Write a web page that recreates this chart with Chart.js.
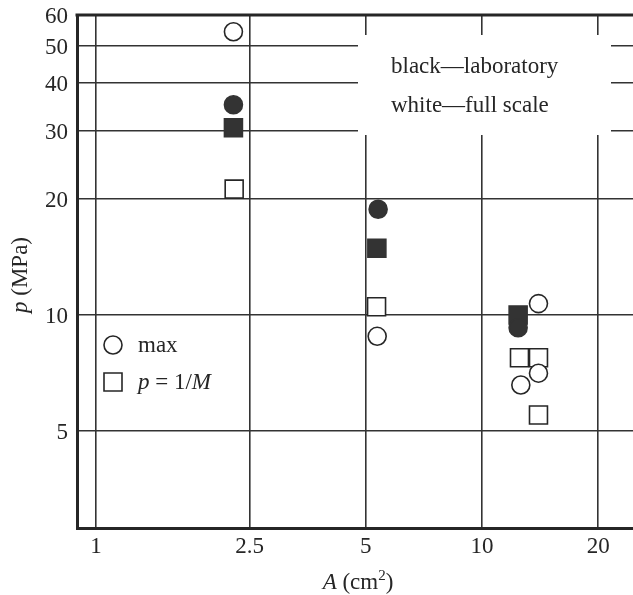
<!DOCTYPE html>
<html>
<head>
<meta charset="utf-8">
<script src="https://cdn.jsdelivr.net/npm/chart.js@4/dist/chart.umd.min.js"></script>
<style>
  html, body { margin: 0; padding: 0; background: #fff; }
  canvas { display: block; }
</style>
</head>
<body>
<canvas id="chart" width="633" height="595"></canvas>
<script>
// Tick positions on both logarithmic axes
const xTicks = [1, 2.5, 5, 10, 20];
const yTicks = [5, 10, 20, 30, 40, 50, 60];

// Full scale measurements (white markers)
const fullMaxA = [2.27, 5.35, 14.0, 14.0, 12.6];
const fullMaxP = [54.3, 8.8, 10.7, 7.06, 6.58];
const fullInvMA = [2.28, 5.33, 12.5, 14.0, 14.0];
const fullInvMP = [21.2, 10.5, 7.74, 7.74, 5.5];

// Laboratory measurements (black markers)
const labMaxA = [2.27, 5.38, 12.4];
const labMaxP = [35.1, 18.8, 9.26];
const labInvMA = [2.27, 5.34, 12.4];
const labInvMP = [30.6, 14.9, 10.0];

const INK = '#262626';
const FILL = '#333333';
const SERIF = '"Liberation Serif", "DejaVu Serif", "Times New Roman", serif';
const FONT_SIZE = 23;

const pts = (xs, ys) => xs.map((x, i) => ({ x, y: ys[i] }));

const CIRCLE_R = 9;
const SQUARE_R = 12.7; // Chart.js 'rect' side = 2 * r * sqrt(1/2)

function series(label, xs, ys, style, filled) {
  return {
    label,
    data: pts(xs, ys),
    showLine: false,
    pointStyle: style,
    pointRadius: style === 'circle' ? CIRCLE_R : SQUARE_R,
    pointHoverRadius: style === 'circle' ? CIRCLE_R : SQUARE_R,
    pointBackgroundColor: filled ? FILL : '#ffffff',
    pointBorderColor: filled ? FILL : INK,
    pointBorderWidth: 1.6
  };
}

// Draw a line of text made of roman / italic / superscript runs
function runsWidth(ctx, runs) {
  let w = 0;
  for (const r of runs) {
    ctx.font = (r.italic ? 'italic ' : '') + (r.sup ? 15 : FONT_SIZE) + 'px ' + SERIF;
    w += ctx.measureText(r.t).width;
  }
  return w;
}
function drawRuns(ctx, runs, x, y) {
  for (const r of runs) {
    ctx.font = (r.italic ? 'italic ' : '') + (r.sup ? 15 : FONT_SIZE) + 'px ' + SERIF;
    ctx.fillText(r.t, x, r.sup ? y - 9 : y);
    x += ctx.measureText(r.t).width;
  }
}

const decorations = {
  id: 'decorations',
  beforeDatasetsDraw(chart) {
    const ctx = chart.ctx;
    const ca = chart.chartArea;
    ctx.save();
    // top frame line
    ctx.strokeStyle = INK;
    ctx.lineWidth = 3;
    ctx.beginPath();
    ctx.moveTo(ca.left - 1.5, ca.top);
    ctx.lineTo(chart.width, ca.top);
    ctx.stroke();

    // note box that blanks the grid behind it
    ctx.fillStyle = '#ffffff';
    ctx.fillRect(358, 35, 253, 100);
    ctx.fillStyle = INK;
    ctx.textBaseline = 'alphabetic';
    ctx.textAlign = 'left';
    ctx.font = FONT_SIZE + 'px ' + SERIF;
    ctx.fillText('black\u2014laboratory', 391, 73);
    ctx.fillText('white\u2014full scale', 391, 112);

    // symbol key
    ctx.lineWidth = 1.6;
    ctx.strokeStyle = INK;
    ctx.fillStyle = '#ffffff';
    ctx.beginPath();
    ctx.arc(113, 345, CIRCLE_R, 0, Math.PI * 2);
    ctx.fill();
    ctx.stroke();
    ctx.beginPath();
    ctx.rect(104, 373, 18, 18);
    ctx.fill();
    ctx.stroke();
    ctx.fillStyle = INK;
    drawRuns(ctx, [{ t: 'max' }], 138, 352);
    drawRuns(ctx, [{ t: 'p', italic: true }, { t: ' = 1/' }, { t: 'M', italic: true }], 138, 389);

    // axis titles
    const xt = [{ t: 'A', italic: true }, { t: ' (cm' }, { t: '2', sup: true }, { t: ')' }];
    drawRuns(ctx, xt, 358 - runsWidth(ctx, xt) / 2, 589);

    const yt = [{ t: 'p', italic: true }, { t: ' (MPa)' }];
    ctx.translate(27, 275);
    ctx.rotate(-Math.PI / 2);
    drawRuns(ctx, yt, -runsWidth(ctx, yt) / 2, 0);
    ctx.restore();
  }
};

const tickFont = { family: SERIF, size: FONT_SIZE };

new Chart(document.getElementById('chart'), {
  type: 'scatter',
  data: {
    datasets: [
      series('laboratory, max', labMaxA, labMaxP, 'circle', true),
      series('laboratory, p = 1/M', labInvMA, labInvMP, 'rect', true),
      series('full scale, max', fullMaxA, fullMaxP, 'circle', false),
      series('full scale, p = 1/M', fullInvMA, fullInvMP, 'rect', false)
    ]
  },
  options: {
    responsive: false,
    animation: false,
    events: [],
    layout: { autoPadding: false, padding: { top: 15, left: 0, right: 0, bottom: 0 } },
    plugins: { legend: { display: false }, tooltip: { enabled: false } },
    scales: {
      x: {
        type: 'logarithmic',
        min: 0.893,
        max: 24.6,
        afterBuildTicks: s => { s.ticks = xTicks.map(v => ({ value: v })); },
        afterFit: s => { s.height = 67; s.paddingLeft = 0; s.paddingRight = 0; },
        ticks: {
          callback: v => String(v),
          font: tickFont,
          color: INK,
          padding: 5,
          maxRotation: 0,
          autoSkip: false
        },
        grid: { color: '#333', lineWidth: 1.6, drawTicks: false },
        border: { color: INK, width: 3 }
      },
      y: {
        type: 'logarithmic',
        min: 2.8,
        max: 60,
        afterBuildTicks: s => { s.ticks = yTicks.map(v => ({ value: v })); },
        afterFit: s => { s.width = 77; s.paddingTop = 0; s.paddingBottom = 0; },
        ticks: {
          callback: v => String(v),
          font: tickFont,
          color: INK,
          padding: 9,
          labelOffset: 2,
          autoSkip: false
        },
        grid: { color: '#333', lineWidth: 1.6, drawTicks: false },
        border: { color: INK, width: 3 }
      }
    }
  },
  plugins: [decorations]
});
</script>
</body>
</html>
